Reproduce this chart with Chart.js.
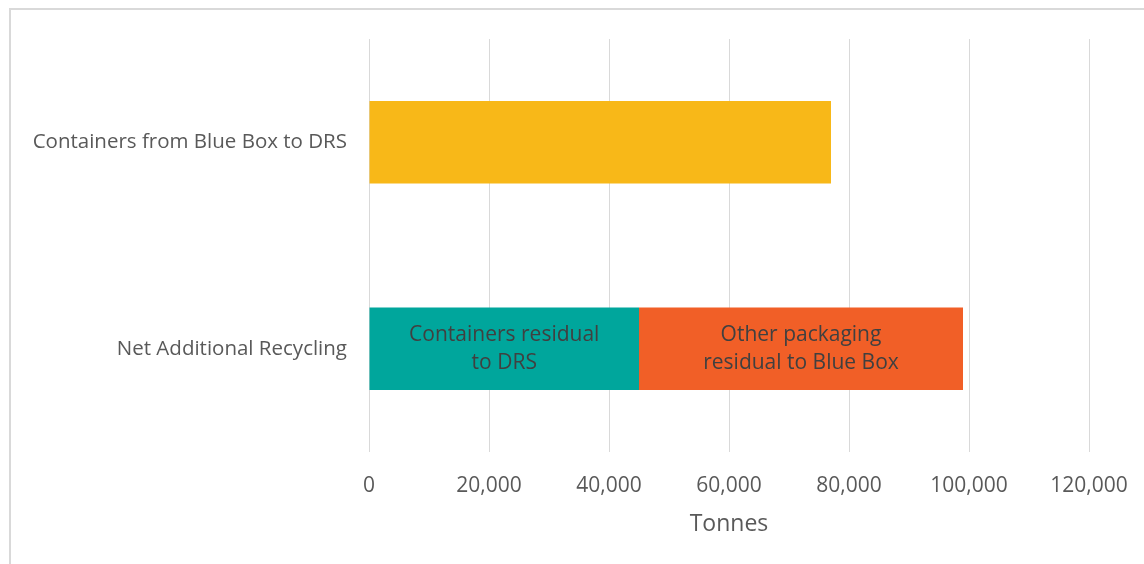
<!DOCTYPE html>
<html>
<head>
<meta charset="utf-8">
<script src="https://cdn.jsdelivr.net/npm/chart.js@4"></script>
<style>
  html, body { margin: 0; padding: 0; background: #fff; overflow: hidden; }
  #frame {
    position: absolute; left: 9px; top: 8px; width: 1200px; height: 600px;
    border: 2px solid #d9d9d9; box-sizing: border-box;
  }
  #wrap { position: absolute; left: 0; top: 0; width: 1144px; height: 564px; }
</style>
</head>
<body>
<div id="frame"></div>
<div id="wrap"><canvas id="recyclingChart" width="1144" height="564"></canvas></div>
<script>
// categories and tonnes per series
const categories = ['Containers from Blue Box to DRS', 'Net Additional Recycling'];
const blueBoxToDrs = [77000, null];
const containersResidual = [null, 45000];
const otherPackagingResidual = [null, 54000];

// text written inside the stacked segments
const containersResidualLabel = ['Containers residual', 'to DRS'];
const otherPackagingLabel = ['Other packaging', 'residual to Blue Box'];

const xTicks = [0, 20000, 40000, 60000, 80000, 100000, 120000];

const FONT = "'Open Sans', sans-serif";
const TEXT_GRAY = '#595959';

// draws the two-line labels centred on each segment
const segmentLabels = {
    id: 'segmentLabels',
    afterDatasetsDraw(chart) {
        const ctx = chart.ctx;
        chart.data.datasets.forEach((ds, di) => {
            if (!ds.segmentText) return;
            const meta = chart.getDatasetMeta(di);
            meta.data.forEach((bar, i) => {
                if (ds.data[i] == null) return;
                const cx = (bar.x + bar.base) / 2;
                const lines = ds.segmentText;
                const lh = 28;
                ctx.save();
                ctx.font = `21px ${FONT}`;
                ctx.fillStyle = '#404040';
                ctx.textAlign = 'center';
                ctx.textBaseline = 'middle';
                lines.forEach((line, k) => {
                    ctx.fillText(line, cx, bar.y + (k - (lines.length - 1) / 2) * lh);
                });
                ctx.restore();
            });
        });
    }
};

new Chart(document.getElementById('recyclingChart'), {
    type: 'bar',
    data: {
        labels: categories,
        datasets: [
            {
                label: 'Containers from Blue Box to DRS',
                data: blueBoxToDrs,
                backgroundColor: '#F8B818',
                borderWidth: 0
            },
            {
                label: 'Containers residual to DRS',
                data: containersResidual,
                backgroundColor: '#00A69C',
                borderWidth: 0,
                segmentText: containersResidualLabel
            },
            {
                label: 'Other packaging residual to Blue Box',
                data: otherPackagingResidual,
                backgroundColor: '#F15F27',
                borderWidth: 0,
                segmentText: otherPackagingLabel
            }
        ]
    },
    options: {
        indexAxis: 'y',
        responsive: false,
        animation: false,
        events: [],
        datasets: {
            bar: { barPercentage: 0.4, categoryPercentage: 1 }
        },
        layout: {
            padding: { left: 0, right: 55, top: 39, bottom: 0 }
        },
        plugins: {
            legend: { display: false },
            tooltip: { enabled: false }
        },
        scales: {
            x: {
                stacked: true,
                min: 0,
                max: 120000,
                afterBuildTicks: scale => {
                    scale.ticks = xTicks.map(v => ({ value: v }));
                },
                afterFit: scale => {
                    scale.height = 112;
                    scale.paddingLeft = 0;
                    scale.paddingRight = 0;
                },
                grid: { color: '#d9d9d9', lineWidth: 1, drawTicks: false },
                border: { display: false },
                ticks: {
                    padding: 21,
                    color: TEXT_GRAY,
                    font: { family: FONT, size: 21 },
                    callback: value => value.toLocaleString('en-US')
                },
                title: {
                    display: true,
                    text: 'Tonnes',
                    color: TEXT_GRAY,
                    font: { family: FONT, size: 23 },
                    padding: { top: 0, bottom: 26 }
                }
            },
            y: {
                stacked: true,
                afterFit: scale => {
                    scale.width = 369;
                    scale.paddingTop = 0;
                    scale.paddingBottom = 0;
                },
                grid: { display: false, drawTicks: false },
                border: { display: false },
                ticks: {
                    padding: 22,
                    color: TEXT_GRAY,
                    font: { family: FONT, size: 20.5 }
                }
            }
        }
    },
    plugins: [segmentLabels]
});
</script>
</body>
</html>
